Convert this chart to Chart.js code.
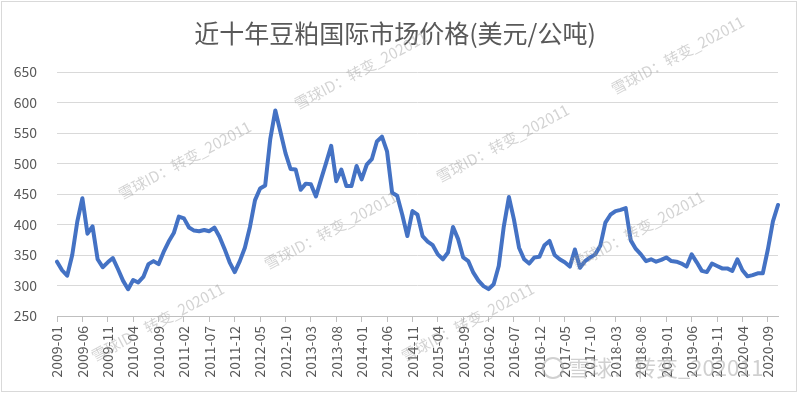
<!DOCTYPE html>
<html>
<head>
<meta charset="utf-8">
<script src="https://cdn.jsdelivr.net/npm/chart.js@4/dist/chart.umd.min.js"></script>
<style>
  html, body { margin: 0; padding: 0; background: #fff; }
  #wrap { width: 800px; height: 395px; }
</style>
</head>
<body>
<div id="wrap"><canvas id="soyChart" width="800" height="395"></canvas></div>
<script>
// ----- Data (USD / metric ton, monthly) -----

const years = [2009, 2010, 2011, 2012, 2013, 2014, 2015, 2016, 2017, 2018, 2019, 2020];
const monthCodes = ["01", "02", "03", "04", "05", "06", "07", "08", "09", "10", "11", "12"];

const price2009 = [339, 325, 316, 350, 405, 443, 385, 397, 343, 330, 338, 345];
const price2010 = [327, 308, 294, 309, 305, 314, 335, 340, 335, 355, 372, 386];
const price2011 = [413, 410, 395, 390, 389, 391, 389, 395, 380, 360, 338, 322];
const price2012 = [340, 362, 396, 440, 459, 464, 540, 587, 552, 517, 491, 490];
const price2013 = [457, 467, 466, 446, 474, 501, 529, 471, 490, 463, 463, 496];
const price2014 = [474, 498, 507, 536, 544, 520, 452, 447, 416, 381, 422, 416];
const price2015 = [381, 372, 366, 351, 343, 354, 396, 376, 346, 340, 321, 308];
const price2016 = [299, 294, 302, 332, 397, 445, 408, 362, 343, 336, 346, 347];
const price2017 = [366, 373, 350, 343, 338, 331, 359, 329, 340, 346, 351, 365];
const price2018 = [403, 416, 422, 424, 427, 374, 360, 351, 340, 343, 339, 342];
const price2019 = [346, 340, 339, 336, 331, 351, 338, 324, 322, 336, 332, 328];
const price2020 = [328, 324, 343, 325, 315, 317, 320, 320, 359, 405, 432];

const prices = [].concat(price2009, price2010, price2011, price2012, price2013, price2014,
  price2015, price2016, price2017, price2018, price2019, price2020);

const months = years
  .flatMap(y => monthCodes.map(m => `${y}-${m}`))
  .slice(0, prices.length);

const tickEvery = 5;   // a label every 5 months
const yTicks = { min: 250, max: 650, step: 50 };

const titleText = "近十年豆粕国际市场价格(美元/公吨)";
const watermarkText = "雪球ID：转变_202011";
const logoText = "雪球：转变_202011";

// ----- Styles -----

const FONT = "'Noto Sans CJK SC', 'Noto Sans', sans-serif";
const TEXT_COLOR = "#595959";
const GRID_COLOR = "#d9d9d9";
const LINE_COLOR = "#4472C4";

// watermark anchors (start of text), drawn rotated
const watermarkSpots = [
  [298, 110], [122, 200], [268, 270], [440, 183],
  [575, 270], [95, 362], [405, 362], [615, 95]
];

/**
 * White background and the thin frame round the chart.
 */
const framePlugin = {
  id: "frame",
  beforeDraw(chart) {
    const { ctx, width, height } = chart;
    ctx.save();
    ctx.fillStyle = "#fff";
    ctx.fillRect(0, 0, width, height);
    ctx.strokeStyle = GRID_COLOR;
    ctx.lineWidth = 1;
    ctx.strokeRect(1.5, 1.5, width - 5, height - 5);
    ctx.restore();
  }
};

/**
 * Faint diagonal watermarks plus the logo text at the bottom right.
 */
const watermarkPlugin = {
  id: "watermark",
  afterDraw(chart) {
    const { ctx } = chart;
    ctx.save();
    ctx.fillStyle = "rgba(150,150,150,0.42)";
    ctx.font = `15px ${FONT}`;
    ctx.textBaseline = "alphabetic";
    watermarkSpots.forEach(([x, y]) => {
      ctx.save();
      ctx.translate(x, y);
      ctx.rotate(-28 * Math.PI / 180);
      ctx.fillText(watermarkText, 0, 0);
      ctx.restore();
    });

    ctx.font = `22px ${FONT}`;
    ctx.fillStyle = "rgba(170,170,170,0.55)";
    ctx.beginPath();
    ctx.arc(553, 368, 10, 0, Math.PI * 2);
    ctx.lineWidth = 2;
    ctx.strokeStyle = "rgba(170,170,170,0.55)";
    ctx.stroke();
    ctx.fillText(logoText, 568, 376);
    ctx.restore();
  }
};

// ----- Chart -----

const ctx = document.getElementById("soyChart").getContext("2d");

new Chart(ctx, {
  type: "line",
  data: {
    labels: months,
    datasets: [{
      data: prices,
      borderColor: LINE_COLOR,
      borderWidth: 4,
      borderJoinStyle: "round",
      borderCapStyle: "round",
      pointRadius: 0,
      tension: 0,
      fill: false
    }]
  },
  options: {
    responsive: false,
    animation: false,
    layout: { padding: { left: 12, right: 22, top: 0, bottom: 0 } },
    plugins: {
      legend: { display: false },
      tooltip: { enabled: false },
      title: {
        display: true,
        text: titleText,
        color: TEXT_COLOR,
        font: { family: FONT, size: 25, weight: "normal" },
        padding: { top: 18, bottom: 24 }
      }
    },
    scales: {
      x: {
        type: "category",
        offset: false,
        border: { display: true, color: "#bfbfbf", width: 1 },
        grid: {
          drawOnChartArea: false,
          drawTicks: true,
          tickLength: 6,
          color: c => (c.index % tickEvery === 0 ? "#bfbfbf" : "transparent")
        },
        ticks: {
          autoSkip: false,
          minRotation: 90,
          maxRotation: 90,
          padding: 4,
          color: TEXT_COLOR,
          font: { family: FONT, size: 14 },
          callback: (val, i) => (i % tickEvery === 0 ? months[i] : "")
        },
        afterFit: s => { s.height = 79; }
      },
      y: {
        min: yTicks.min,
        max: yTicks.max,
        border: { display: false },
        grid: { color: GRID_COLOR, drawTicks: false },
        ticks: {
          stepSize: yTicks.step,
          padding: 20,
          color: TEXT_COLOR,
          font: { family: FONT, size: 14 }
        },
        afterFit: s => { s.width = 45; }
      }
    }
  },
  plugins: [framePlugin, watermarkPlugin]
});
</script>
</body>
</html>
